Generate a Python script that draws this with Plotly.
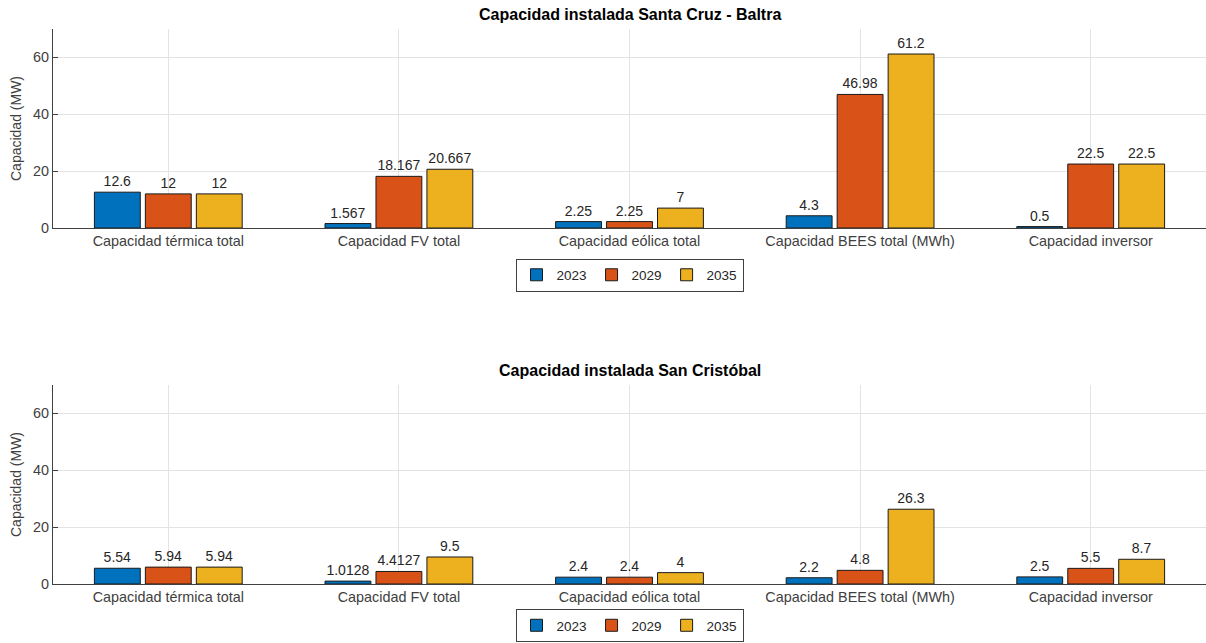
import plotly.graph_objects as go

categories = ["Capacidad térmica total", "Capacidad FV total", "Capacidad eólica total",
              "Capacidad BEES total (MWh)", "Capacidad inversor"]
years = ["2023", "2029", "2035"]
colors = ["#0072BD", "#D95319", "#EDB120"]

santa_cruz_2023 = [12.6, 1.567, 2.25, 4.3, 0.5]
santa_cruz_2029 = [12, 18.167, 2.25, 46.98, 22.5]
santa_cruz_2035 = [12, 20.667, 7, 61.2, 22.5]

san_cristobal_2023 = [5.54, 1.0128, 2.4, 2.2, 2.5]
san_cristobal_2029 = [5.94, 4.4127, 2.4, 4.8, 5.5]
san_cristobal_2035 = [5.94, 9.5, 4, 26.3, 8.7]

titles = ["Capacidad instalada Santa Cruz - Baltra", "Capacidad instalada San Cristóbal"]
y_title = "Capacidad (MW)"

FONT = "Liberation Sans, Arial, sans-serif"
TXT = "#262626"
AX = "#404040"

fig = go.Figure()

groups = [
    ([santa_cruz_2023, santa_cruz_2029, santa_cruz_2035], "x", "y", "legend"),
    ([san_cristobal_2023, san_cristobal_2029, san_cristobal_2035], "x2", "y2", "legend2"),
]
for series, xa, ya, lg in groups:
    for name, vals, col in zip(years, series, colors):
        fig.add_trace(go.Bar(
            x=categories, y=vals, name=name, xaxis=xa, yaxis=ya, legend=lg,
            marker=dict(color=col, line=dict(color="#1a1a1a", width=1)),
            text=["%g" % v for v in vals], textposition="outside",
            textfont=dict(size=14, color=TXT, family=FONT),
            cliponaxis=False, hoverinfo="x+y+name",
        ))

top_dom = [(555 - 199) / 555, 1.0]
bot_dom = [0.0, 199 / 555]

axis_common = dict(showline=True, linecolor=AX, linewidth=1,
                   showgrid=True, gridcolor="#e3e3e3", gridwidth=1,
                   tickfont=dict(size=14.4, color=AX, family=FONT),
                   zeroline=False, automargin=False)

ytitle = dict(text=y_title, font=dict(size=14, color=AX, family=FONT), standoff=8)

legend_common = dict(orientation="h", x=0.5, xanchor="center",
                     bordercolor=AX, borderwidth=1, bgcolor="white",
                     font=dict(size=13.5, color=TXT, family=FONT), itemwidth=30,
                     tracegroupgap=0)

fig.update_layout(
    width=1206, height=643,
    margin=dict(l=53, r=0, t=29, b=59, autoexpand=False),
    paper_bgcolor="white", plot_bgcolor="white",
    barmode="group", bargap=0.337, bargroupgap=0.1,
    font=dict(family=FONT, color=TXT, size=12),
    showlegend=True,
    xaxis=dict(domain=[0, 1], anchor="y", ticks="", **axis_common),
    xaxis2=dict(domain=[0, 1], anchor="y2", ticks="", **axis_common),
    yaxis=dict(domain=top_dom, anchor="x", range=[0, 70], tickvals=[0, 20, 40, 60],
               ticks="inside", ticklen=5, tickcolor=AX, title=ytitle, **axis_common),
    yaxis2=dict(domain=bot_dom, anchor="x2", range=[0, 70], tickvals=[0, 20, 40, 60],
                ticks="inside", ticklen=5, tickcolor=AX, title=ytitle, **axis_common),
    legend=dict(y=(584 - 275) / 555, yanchor="middle", **legend_common),
    legend2=dict(y=(584 - 642) / 555, yanchor="bottom", **legend_common),
    annotations=[
        dict(text="<b>%s</b>" % titles[0], x=0.5, y=(584 - 14) / 555, xref="paper", yref="paper",
             xanchor="center", yanchor="middle", showarrow=False,
             font=dict(size=16, color="black", family=FONT)),
        dict(text="<b>%s</b>" % titles[1], x=0.5, y=(584 - 371) / 555, xref="paper", yref="paper",
             xanchor="center", yanchor="middle", showarrow=False,
             font=dict(size=16, color="black", family=FONT)),
    ],
)

fig.write_html("out.html", config={"displayModeBar": False},
               post_script="document.body.style.margin='0';document.body.style.padding='0';")
